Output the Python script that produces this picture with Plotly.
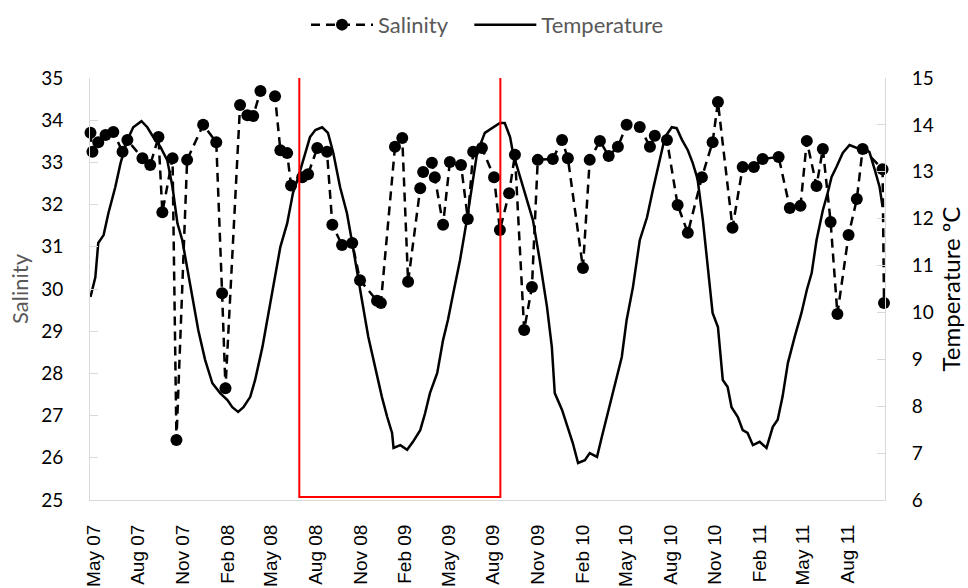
import plotly.graph_objects as go

# ---------------- data ----------------
temp_dates = [
    "2007-04-25", "2007-05-05", "2007-05-11", "2007-05-22", "2007-06-01", "2007-06-15", "2007-06-26",
    "2007-07-10", "2007-07-22", "2007-08-08", "2007-08-20", "2007-08-30", "2007-09-16", "2007-09-30",
    "2007-10-11", "2007-10-21", "2007-10-31", "2007-11-10", "2007-11-23", "2007-12-03", "2007-12-17",
    "2008-01-01", "2008-01-17", "2008-02-01", "2008-02-11", "2008-02-23", "2008-03-05", "2008-03-19",
    "2008-03-29", "2008-04-13", "2008-04-23", "2008-05-03", "2008-05-20", "2008-06-03", "2008-06-15",
    "2008-06-24", "2008-07-06", "2008-07-20", "2008-07-31", "2008-08-14", "2008-08-26", "2008-09-06",
    "2008-09-20", "2008-10-04", "2008-10-15", "2008-10-25", "2008-11-04", "2008-11-17", "2008-12-01",
    "2008-12-15", "2008-12-26", "2009-01-05", "2009-01-08", "2009-01-22", "2009-02-05", "2009-02-17",
    "2009-03-04", "2009-03-14", "2009-03-24", "2009-04-08", "2009-04-20", "2009-04-30", "2009-05-11",
    "2009-05-25", "2009-06-08", "2009-06-19", "2009-06-29", "2009-07-15", "2009-08-01", "2009-08-15",
    "2009-08-25", "2009-09-05", "2009-09-11", "2009-10-02", "2009-10-22", "2009-11-05", "2009-11-20",
    "2009-11-30", "2009-12-06", "2009-12-21", "2010-01-02", "2010-01-12", "2010-01-23", "2010-02-06",
    "2010-02-16", "2010-03-03", "2010-03-13", "2010-03-25", "2010-04-09", "2010-04-23", "2010-05-03",
    "2010-05-16", "2010-05-30", "2010-06-14", "2010-06-26", "2010-07-10", "2010-07-21", "2010-08-04",
    "2010-08-14", "2010-08-25", "2010-09-06", "2010-09-16", "2010-09-26", "2010-10-07", "2010-10-17",
    "2010-10-27", "2010-11-07", "2010-11-17", "2010-11-27", "2010-12-05", "2010-12-18", "2010-12-28",
    "2011-01-07", "2011-01-18", "2011-02-01", "2011-02-15", "2011-02-28", "2011-03-10", "2011-03-20",
    "2011-03-31", "2011-04-14", "2011-04-28", "2011-05-09", "2011-05-19", "2011-05-29", "2011-06-11",
    "2011-06-21", "2011-06-29", "2011-07-09", "2011-07-22", "2011-08-05", "2011-08-20", "2011-09-01",
    "2011-09-15", "2011-09-26", "2011-10-06", "2011-10-12",
]
temp_values = [
    10.33, 10.75, 11.48, 11.65, 12.12, 12.67, 13.19,
    13.68, 13.95, 14.08, 13.95, 13.78, 13.53, 13.25,
    12.67, 11.90, 11.54, 10.97, 10.26, 9.62, 8.99,
    8.49, 8.28, 8.13, 7.98, 7.88, 7.98, 8.20,
    8.56, 9.26, 9.84, 10.41, 11.40, 11.90, 12.55,
    12.82, 13.25, 13.74, 13.89, 13.95, 13.83, 13.40,
    12.67, 12.12, 11.48, 10.84, 10.26, 9.48, 8.84,
    8.20, 7.77, 7.43, 7.11, 7.17, 7.07, 7.24,
    7.49, 7.85, 8.28, 8.71, 9.41, 9.84, 10.41,
    11.12, 11.97, 12.76, 13.40, 13.83, 13.95, 14.04,
    14.04, 13.74, 13.40, 12.67, 11.97, 11.12, 10.12,
    9.26, 8.28, 7.92, 7.56, 7.22, 6.79, 6.85,
    7.00, 6.92, 7.35, 7.85, 8.41, 9.05, 9.84,
    10.54, 11.54, 12.03, 12.61, 13.25, 13.74, 13.95,
    13.93, 13.68, 13.46, 13.19, 12.85, 11.97, 11.05,
    9.99, 9.69, 8.56, 8.41, 7.98, 7.77, 7.49,
    7.43, 7.17, 7.24, 7.11, 7.56, 7.71, 8.20,
    8.92, 9.48, 9.99, 10.48, 10.84, 11.54, 12.18,
    12.55, 12.89, 13.10, 13.40, 13.57, 13.51, 13.53,
    13.42, 13.04, 12.67, 12.25,
]

sal_dates = [
    "2007-04-25", "2007-04-29", "2007-05-11", "2007-05-26", "2007-06-11", "2007-06-30", "2007-07-10",
    "2007-08-10", "2007-08-26", "2007-09-12", "2007-09-20", "2007-10-11", "2007-10-19", "2007-11-10",
    "2007-12-13", "2008-01-09", "2008-01-21", "2008-01-28", "2008-02-27", "2008-03-13", "2008-03-25",
    "2008-04-09", "2008-05-09", "2008-05-20", "2008-06-03", "2008-06-11", "2008-07-04", "2008-07-16",
    "2008-08-04", "2008-08-24", "2008-09-04", "2008-09-24", "2008-10-15", "2008-10-31", "2008-12-05",
    "2008-12-13", "2009-01-11", "2009-01-26", "2009-02-07", "2009-03-04", "2009-03-10", "2009-03-28",
    "2009-04-03", "2009-04-20", "2009-05-04", "2009-05-27", "2009-06-10", "2009-06-21", "2009-07-09",
    "2009-08-03", "2009-08-15", "2009-09-03", "2009-09-15", "2009-10-04", "2009-10-20", "2009-11-01",
    "2009-12-02", "2009-12-21", "2010-01-02", "2010-02-02", "2010-02-16", "2010-03-09", "2010-03-27",
    "2010-04-15", "2010-05-03", "2010-05-30", "2010-06-20", "2010-06-30", "2010-07-25", "2010-08-16",
    "2010-09-06", "2010-10-05", "2010-10-27", "2010-11-07", "2010-12-07", "2010-12-28", "2011-01-20",
    "2011-02-07", "2011-03-12", "2011-04-04", "2011-04-26", "2011-05-09", "2011-05-29", "2011-06-11",
    "2011-06-27", "2011-07-11", "2011-08-03", "2011-08-20", "2011-09-01", "2011-10-12", "2011-10-15",
]
sal_values = [
    33.70, 33.25, 33.48, 33.65, 33.72, 33.25, 33.53,
    33.10, 32.94, 33.60, 31.82, 33.10, 26.42, 33.06,
    33.89, 33.48, 29.90, 27.65, 34.36, 34.12, 34.10,
    34.69, 34.57, 33.29, 33.22, 32.45, 32.65, 32.72,
    33.34, 33.25, 31.52, 31.04, 31.09, 30.21, 29.72,
    29.67, 33.37, 33.58, 30.17, 32.39, 32.77, 32.99,
    32.65, 31.52, 33.01, 32.94, 31.66, 33.25, 33.34,
    32.65, 31.40, 32.27, 33.18, 29.03, 30.05, 33.06,
    33.08, 33.53, 33.10, 30.50, 33.06, 33.51, 33.15,
    33.37, 33.89, 33.84, 33.37, 33.63, 33.53, 31.99,
    31.33, 32.65, 33.48, 34.43, 31.45, 32.89, 32.89,
    33.08, 33.13, 31.92, 31.97, 33.51, 32.44, 33.32,
    31.59, 29.41, 31.28, 32.13, 33.32, 32.84, 29.67,
]

tick_dates = [
    "2007-05-01", "2007-08-01", "2007-11-01", "2008-02-01", "2008-05-01", "2008-08-01",
    "2008-11-01", "2009-02-01", "2009-05-01", "2009-08-01", "2009-11-01", "2010-02-01",
    "2010-05-01", "2010-08-01", "2010-11-01", "2011-02-01", "2011-05-01", "2011-08-01",
]
tick_labels = [
    "May 07", "Aug 07", "Nov 07", "Feb 08", "May 08", "Aug 08",
    "Nov 08", "Feb 09", "May 09", "Aug 09", "Nov 09", "Feb 10",
    "May 10", "Aug 10", "Nov 10", "Feb 11", "May 11", "Aug 11",
]

x_range = ["2007-04-24", "2011-10-17"]
highlight_x = ["2008-06-28", "2009-08-16"]
highlight_y = [25.07, 35.17]

# ---------------- figure ----------------
AXIS_GREY = "#d9d9d9"
TEXT_GREY = "#595959"
FAMILY = "Lato, Open Sans, sans-serif"
YFONT = dict(family=FAMILY, size=19, color="#000000")
NBSP = "\u00a0"

fig = go.Figure()
fig.add_trace(go.Scatter(
    x=sal_dates, y=sal_values, name="Salinity" + NBSP * 3, mode="lines+markers",
    line=dict(color="black", width=2.5, dash="9px,6px"),
    marker=dict(color="black", size=12, symbol="circle"),
    cliponaxis=False, yaxis="y",
))
fig.add_trace(go.Scatter(
    x=temp_dates, y=temp_values, name="Temperature", mode="lines",
    line=dict(color="black", width=2.5),
    cliponaxis=False, yaxis="y2",
))

fig.add_shape(
    type="rect", xref="x", yref="y",
    x0=highlight_x[0], x1=highlight_x[1], y0=highlight_y[0], y1=highlight_y[1],
    line=dict(color="#ff0000", width=2), fillcolor="rgba(0,0,0,0)", layer="above",
)

fig.update_layout(
    width=968, height=588,
    margin=dict(l=90, r=83, t=78, b=88, autoexpand=False),
    paper_bgcolor="white", plot_bgcolor="white",
    showlegend=True,
    legend=dict(
        orientation="h", x=0.5, xanchor="center", y=1.126, yanchor="middle",
        font=dict(family=FAMILY, size=22, color=TEXT_GREY),
        itemwidth=62, bgcolor="rgba(0,0,0,0)", traceorder="normal",
    ),
    xaxis=dict(
        type="date", range=x_range, tickmode="array",
        tickvals=tick_dates, ticktext=tick_labels, tickangle=-90,
        tickfont=dict(family="Liberation Sans, Arial, sans-serif", size=19, color="#000000"),
        showgrid=False, zeroline=False, showline=True, linecolor=AXIS_GREY, linewidth=1,
        ticks="", automargin=False, ticklabelstandoff=16,
    ),
    yaxis=dict(
        range=[25, 35], tickmode="linear", tick0=25, dtick=1,
        showgrid=False, zeroline=False, showline=True, linecolor=AXIS_GREY, linewidth=1,
        ticks="inside", ticklen=8, tickcolor=AXIS_GREY, tickwidth=1,
        tickfont=YFONT, ticklabelstandoff=22,
        title=dict(text="Salinity", font=dict(family=FAMILY, size=22, color=TEXT_GREY), standoff=6),
        automargin=False,
    ),
    yaxis2=dict(
        range=[6, 15], tickmode="linear", tick0=6, dtick=1,
        overlaying="y", side="right", anchor="x",
        showgrid=False, zeroline=False, showline=True, linecolor=AXIS_GREY, linewidth=1,
        ticks="inside", ticklen=8, tickcolor=AXIS_GREY, tickwidth=1,
        tickfont=YFONT, ticklabelstandoff=22,
        title=dict(text="Temperature ºC", font=dict(family=FAMILY, size=24, color="#000000"), standoff=10),
        automargin=False,
    ),
)

fig.write_html("out.html")
